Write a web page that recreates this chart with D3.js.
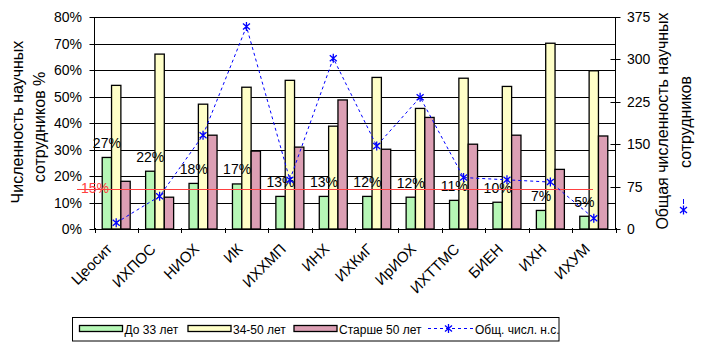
<!DOCTYPE html>
<html><head><meta charset="utf-8">
<script src="https://cdn.jsdelivr.net/npm/d3@7"></script>
<style>body{margin:0;background:#fff}svg{display:block;font-family:"Liberation Sans",Arial,sans-serif}</style>
</head><body><svg id="c" width="704" height="354"></svg>
<script>
const categories = ["Цеосит","ИХПОС","НИОХ","ИК","ИХХМП","ИНХ","ИХКиГ","ИрИОХ","ИХТТМС","БИЕН","ИХН","ИХУМ"];
const young = [27.0,21.8,17.2,17.0,12.3,12.3,12.3,12.0,10.8,10.1,7.0,4.8];
const middle = [54.2,66.0,47.1,53.5,56.1,38.8,57.2,45.5,56.9,53.8,70.1,59.7];
const senior = [18.0,12.0,35.4,29.4,30.9,48.7,30.1,42.1,32.0,35.4,22.5,35.1];
const youngLabels = ["27%","22%","18%","17%","13%","13%","12%","12%","11%","10%","7%","5%"];
const total = [11,58,166,358,87,302,147,233,91,87,83,19];
const leftTicks = [0,10,20,30,40,50,60,70,80];
const rightTicks = [0,75,150,225,300,375];
const seriesNames = ["До 33 лет","34-50 лет","Старше 50 лет","Общ. числ. н.с."];
const seriesColors = ["#b6f7b6","#ffffc8","#dc9fb4"];
const threshold = 15;

const svg = d3.select("#c");
const L=94.5,R=615.5,T=17,B=229;
const x = d3.scaleBand().domain(categories).range([L,R]);
const y = d3.scaleLinear().domain([0,80]).range([B,T]);
const y2 = d3.scaleLinear().domain([0,375]).range([B,T]);
const gw = x.bandwidth()*0.645;
const xs = d3.scaleBand().domain([0,1,2]).range([0,gw]);
const series=[young,middle,senior];

// gridlines
svg.append("g").selectAll("line").data(leftTicks.slice(1)).join("line")
  .attr("x1",L).attr("x2",R).attr("y1",d=>Math.round(y(d))+0.5).attr("y2",d=>Math.round(y(d))+0.5)
  .attr("stroke","#000");

// bars
categories.forEach((c,i)=>{
  series.forEach((s,k)=>{
    const x0 = x(c)+(x.bandwidth()-gw)/2+xs(k);
    svg.append("rect").attr("x",x0).attr("y",y(s[i])).attr("width",xs.bandwidth()).attr("height",B-y(s[i]))
      .attr("fill",seriesColors[k]).attr("stroke","#000").attr("stroke-width",1.3);
  });
});

// axes
const ga = svg.append("g").attr("stroke","#000");
ga.append("line").attr("x1",L).attr("x2",L).attr("y1",T).attr("y2",B);
ga.append("line").attr("x1",R).attr("x2",R).attr("y1",T).attr("y2",B);
ga.append("line").attr("x1",L).attr("x2",R).attr("y1",B+0.5).attr("y2",B+0.5);
ga.selectAll(".lt").data(leftTicks).join("line").attr("x1",L-5).attr("x2",L+6)
  .attr("y1",d=>Math.round(y(d))+0.5).attr("y2",d=>Math.round(y(d))+0.5);
ga.selectAll(".rt").data(rightTicks).join("line").attr("x1",R-5).attr("x2",R+5)
  .attr("y1",d=>Math.round(y2(d))+0.5).attr("y2",d=>Math.round(y2(d))+0.5);
const bnd = categories.map(c=>x(c)).concat([R]);
ga.selectAll(".bt").data(bnd).join("line").attr("x1",d=>Math.round(d)+0.5).attr("x2",d=>Math.round(d)+0.5)
  .attr("y1",B-1).attr("y2",B+4);

svg.append("g").selectAll("text").data(leftTicks).join("text")
  .attr("x",82).attr("y",d=>y(d)+5).attr("text-anchor","end").attr("font-size",14).text(d=>d+"%");
svg.append("g").selectAll("text").data(rightTicks).join("text")
  .attr("x",627).attr("y",d=>y2(d)+5).attr("text-anchor","start").attr("font-size",14).text(d=>d);

// x labels
svg.append("g").selectAll("text").data(categories).join("text")
  .attr("transform",c=>`translate(${x(c)+x.bandwidth()/2-3},${250}) rotate(-45)`)
  .attr("text-anchor","end").attr("font-size",15).text(c=>c);

// green labels
svg.append("g").selectAll("text").data(categories).join("text")
  .attr("x",(c)=>x(c)+(x.bandwidth()-gw)/2+xs.bandwidth()/2)
  .attr("y",(c,i)=>y(young[i])-9.5).attr("text-anchor","middle").attr("font-size",14).text((c,i)=>youngLabels[i]);

// threshold line
svg.append("line").attr("x1",77).attr("x2",593).attr("y1",Math.round(y(threshold))+0.5).attr("y2",Math.round(y(threshold))+0.5)
  .attr("stroke","#ff4040").attr("stroke-width",1);
svg.append("text").attr("x",95).attr("y",y(threshold)+4).attr("text-anchor","middle").attr("font-size",14)
  .attr("fill","#ff4040").text(threshold+"%");

// total line
const star = "M-3.5,-3L3.5,3M-3.5,3L3.5,-3M0,-4.5L0,4.5";
const line = d3.line().x((d,i)=>x(categories[i])+x.bandwidth()/2).y(d=>y2(d));
svg.append("path").attr("d",line(total)).attr("fill","none").attr("stroke","#0000ff").attr("stroke-dasharray","3,3");
svg.append("g").selectAll("path").data(total).join("path")
  .attr("transform",(d,i)=>`translate(${x(categories[i])+x.bandwidth()/2},${y2(d)})`)
  .attr("d",star).attr("stroke","#0000ff").attr("stroke-width",1.3).attr("fill","none");

// axis titles
const lt = svg.append("text").attr("transform","translate(23,122) rotate(-90)").attr("text-anchor","middle").attr("font-size",16);
lt.append("tspan").attr("x",0).attr("y",0).text("Численность научных");
lt.append("tspan").attr("x",-5).attr("y",22).text("сотрудников %");
const rt = svg.append("text").attr("transform","translate(668,121) rotate(-90)").attr("text-anchor","middle").attr("font-size",16);
rt.append("tspan").attr("x",0).attr("y",0).text("Общая численность научных");
rt.append("tspan").attr("x",-1).attr("y",23).text("сотрудников");
svg.append("line").attr("x1",683.5).attr("x2",683.5).attr("y1",199).attr("y2",204).attr("stroke","#0000ff");
svg.append("path").attr("transform","translate(683.5,210)").attr("d",star).attr("stroke","#0000ff").attr("stroke-width",1.3).attr("fill","none");

// legend
const lg = svg.append("g");
lg.append("rect").attr("x",72.5).attr("y",317.5).attr("width",486.5).attr("height",23.5).attr("fill","#fff").attr("stroke","#000");
const lx = [79.5,188,294];
lx.forEach((xx,k)=>{
  lg.append("rect").attr("x",xx).attr("y",325.5).attr("width",43).attr("height",6).attr("fill",seriesColors[k]).attr("stroke","#000").attr("stroke-width",1.3);
  lg.append("text").attr("x",xx+45).attr("y",333.5).attr("font-size",12).text(seriesNames[k]);
});
lg.append("line").attr("x1",428).attr("x2",473).attr("y1",328.5).attr("y2",328.5).attr("stroke","#0000ff").attr("stroke-dasharray","3,3");
lg.append("path").attr("transform","translate(448.5,328.5)").attr("d",star).attr("stroke","#0000ff").attr("stroke-width",1.3).attr("fill","none");
lg.append("text").attr("x",475).attr("y",333.5).attr("font-size",12).text(seriesNames[3]);
</script></body></html>
